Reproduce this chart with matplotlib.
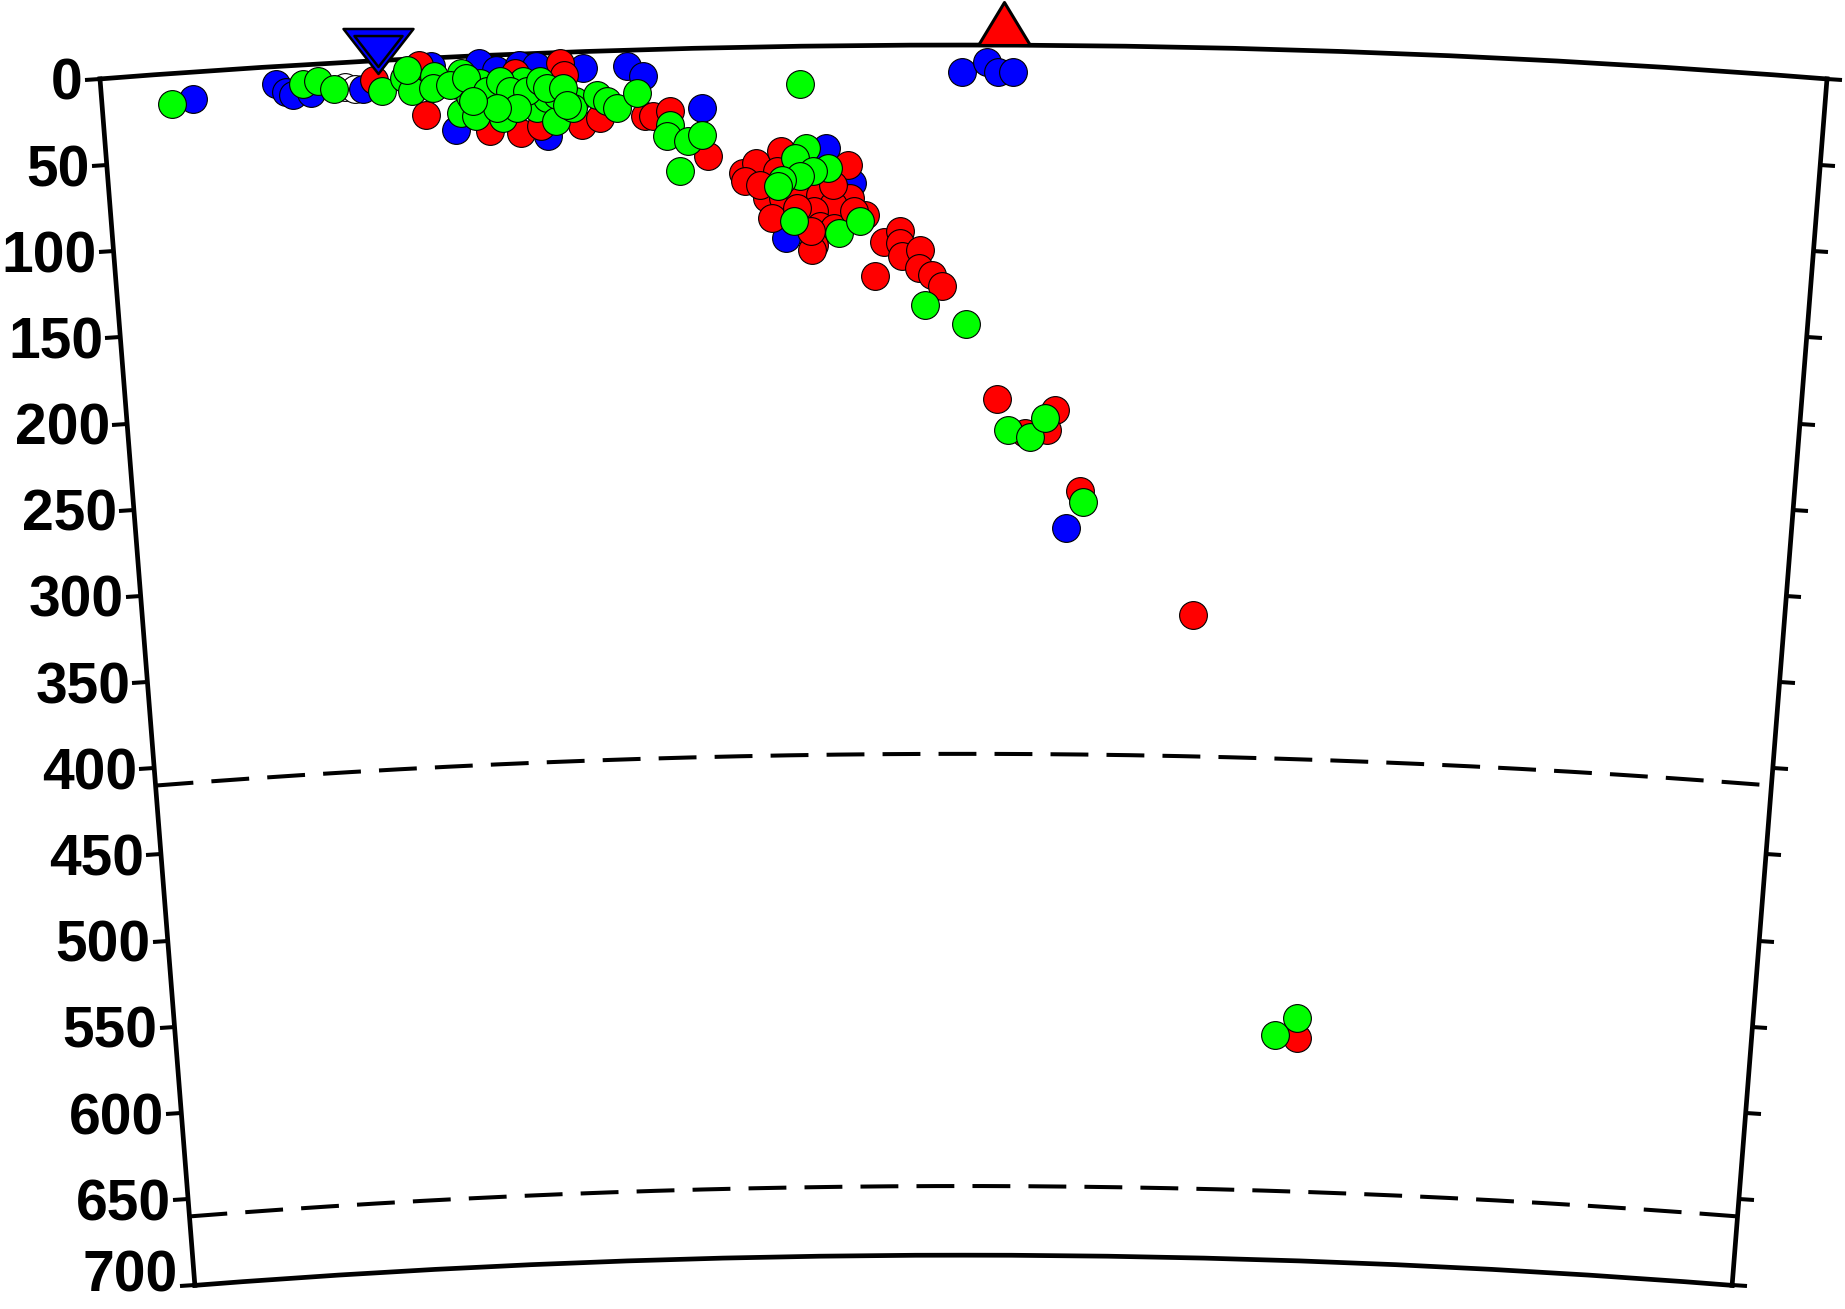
import numpy as np
import matplotlib.pyplot as plt
from matplotlib.path import Path
from matplotlib.transforms import offset_copy

plt.rcParams['font.family'] = ['Liberation Sans', 'DejaVu Sans']
plt.rcParams['font.weight'] = 'bold'

# earth radius and profile geometry (km)
R = 6371.0
length_km = 1000.0
max_depth = 700
depth_ticks = list(range(0, 701, 50))
discontinuities = [410, 660]

# hypocentres: distance along profile (km), depth (km)
white_dist = [141.0, 146.8]
white_depth = [14.2, 15.5]

blue_dist = [52.7, 101.4, 107.1, 110.8, 121.6, 151.4, 191.5, 204.6, 219.6, 229.4,
             242.7, 252.3, 257.7, 279.7, 304.8, 314.3, 347.7, 419.9, 395.4, 434.5,
             499.0, 513.5, 520.2, 528.9, 562.0]
blue_depth = [15.4, 10.1, 15.3, 16.9, 16.5, 15.8, 4.7, 42.2, 4.3, 8.6,
              6.2, 7.5, 48.2, 9.5, 9.3, 15.4, 34.6, 59.1, 110.8, 79.5,
              15.6, 10.0, 15.6, 15.6, 279.1]

red_dist = [158.4, 184.5, 187.2, 224.0, 242.4, 239.8, 254.0, 266.3, 268.2, 277.6,
            288.4, 314.7, 319.5, 329.2, 350.9,
            371.1, 378.9, 372.0, 393.6, 432.5, 384.7, 384.7, 394.4, 404.2, 415.9,
            425.7, 433.5, 423.7, 412.0, 387.6, 415.9, 423.7, 442.3, 412.0, 411.0,
            453.0, 462.8, 462.8, 463.8, 474.5, 473.5, 481.4, 487.2, 447.7,
            423.7, 390.6, 380.8, 402.3, 435.5, 410.1,
            519.8, 554.7, 549.9, 536.9, 570.2, 640.2, 711.8]
red_depth = [11.1, 3.6, 32.7, 44.0, 45.7, 10.9, 42.3, 6.1, 13.0, 42.2,
             38.8, 38.6, 38.7, 36.1, 62.6,
             72.8, 67.1, 77.6, 60.6, 68.9, 82.6, 87.5, 87.6, 85.9, 86.1,
             85.2, 88.1, 91.9, 95.6, 99.1, 104.3, 105.4, 97.9, 114.9, 117.8,
             113.9, 107.6, 114.4, 122.1, 118.3, 128.9, 132.9, 139.6, 133.6,
             80.3, 72.1, 79.7, 93.5, 95.8, 107.1,
             204.6, 210.7, 222.3, 224.3, 257.8, 328.1, 571.2]

green_dist = [40.5, 116.8, 125.9, 134.6, 162.3, 175.8, 179.7, 177.7, 193.2, 192.1,
              208.8, 206.8, 207.6, 216.3, 213.5, 219.4, 227.0, 231.8, 234.9, 238.7,
              244.5, 251.2, 252.0, 257.9, 262.6, 263.7, 274.2, 273.2, 286.9, 292.6,
              298.3, 310.2, 329.0, 326.9, 339.4, 347.3, 334.2,
              202.0, 211.8, 223.1, 231.0, 236.6, 246.3, 254.2, 258.0, 267.6, 269.3,
              240.3, 228.7, 215.1,
              405.1,
              408.2, 401.3, 420.8, 412.0, 404.2, 393.5, 391.5, 400.3, 426.6, 439.3,
              477.4, 501.3,
              526.9, 539.9, 548.5, 572.3, 698.0, 711.4]
green_depth = [17.5, 11.0, 10.1, 15.0, 17.9, 10.9, 18.7, 6.2, 10.8, 17.5,
               9.5, 16.3, 32.6, 34.9, 23.3, 15.8, 23.8, 36.6, 18.4, 25.3,
               15.9, 20.0, 31.6, 26.1, 39.7, 24.4, 28.6, 32.4, 25.2, 29.2,
               33.3, 24.9, 43.8, 50.5, 53.7, 50.1, 70.6,
               16.0, 12.6, 20.8, 15.3, 21.3, 21.7, 16.3, 20.3, 20.6, 30.4,
               31.2, 30.7, 26.2,
               21.9,
               58.9, 64.6, 70.7, 72.5, 75.2, 77.0, 80.8, 100.9, 108.3, 101.3,
               150.2, 161.4,
               222.8, 226.8, 215.6, 263.9, 569.6, 559.6]

# surface symbols
inv_tri_dist = [161.3]
tri_dist = [523.4]


def to_theta(d):
    return np.asarray(d) / R


def to_r(z):
    return R - np.asarray(z)


fig = plt.figure(figsize=(18.45, 13.09), dpi=100)
ax = fig.add_axes([0.0542, -0.16784, 0.93604, 1.31933], projection='polar')
ax.set_theta_direction(-1)
ax.set_theta_offset(np.pi / 2 + length_km / 2 / R)
ax.set_thetamin(0)
ax.set_thetamax(np.degrees(length_km / R))
ax.set_rorigin(0)
ax.set_rlim(R - max_depth, R)
ax.grid(False)
ax.set_xticks([])
ax.set_yticks(to_r(depth_ticks))
ax.tick_params(axis='y', direction='out', length=10.8, width=2.9,
               left=True, right=True, labelleft=False, labelright=False)
for sp in ax.spines.values():
    sp.set_linewidth(3.4)

# depth labels along the left edge (700 lifted a little to stay on the page)
for d in depth_ticks:
    lift = 15 if d == max_depth else 0
    tr = offset_copy(ax.transData, fig=fig, x=-17, y=lift, units='dots')
    ax.text(0, R - d, str(d), transform=tr, ha='right', va='center_baseline',
            fontsize=41, fontweight='bold', clip_on=False)

# 410 / 660 discontinuities, drawn as arcs of constant depth
arc_theta = np.linspace(0, length_km / R, 200)
for z in discontinuities:
    ax.plot(arc_theta, np.full(arc_theta.size, R - z), color='k', lw=2.9,
            dashes=(9.4, 4.5), zorder=2)

kw = dict(ls='none', marker='o', ms=20, mec='k', mew=0.8, clip_on=False)
ax.plot(to_theta(white_dist), to_r(white_depth), mfc='white', zorder=3.0, **kw)
ax.plot(to_theta(blue_dist), to_r(blue_depth), mfc='#0000ff', zorder=3.1, **kw)
ax.plot(to_theta(red_dist), to_r(red_depth), mfc='#ff0000', zorder=3.2, **kw)
ax.plot(to_theta(green_dist), to_r(green_depth), mfc='#00ff00', zorder=3.3, **kw)

inv_tri = Path([(-1, 0.643), (1, 0.643), (0, -0.643), (-1, 0.643)],
               [Path.MOVETO, Path.LINETO, Path.LINETO, Path.CLOSEPOLY])
up_tri = Path([(-1, 0), (1, 0), (0, 1.654), (-1, 0)],
              [Path.MOVETO, Path.LINETO, Path.LINETO, Path.CLOSEPOLY])
lifted = offset_copy(ax.transData, fig=fig, x=0, y=10, units='dots')
surf = np.zeros(len(inv_tri_dist))
ax.plot(to_theta(inv_tri_dist), to_r(surf), ls='none', marker=inv_tri, ms=50.4,
        mfc='#0000ff', mec='k', mew=1.8, clip_on=False, zorder=5, transform=lifted)
ax.plot(to_theta(inv_tri_dist), to_r(surf), ls='none', marker=inv_tri, ms=34.6,
        mfc='#0000ff', mec='k', mew=1.8, clip_on=False, zorder=5.1, transform=lifted)
ax.plot(to_theta(tri_dist), to_r(np.zeros(len(tri_dist))), ls='none', marker=up_tri,
        ms=61.9, mfc='#ff0000', mec='k', mew=2.2, clip_on=False, zorder=5)

fig.savefig('out.png', dpi=100, facecolor='white')
